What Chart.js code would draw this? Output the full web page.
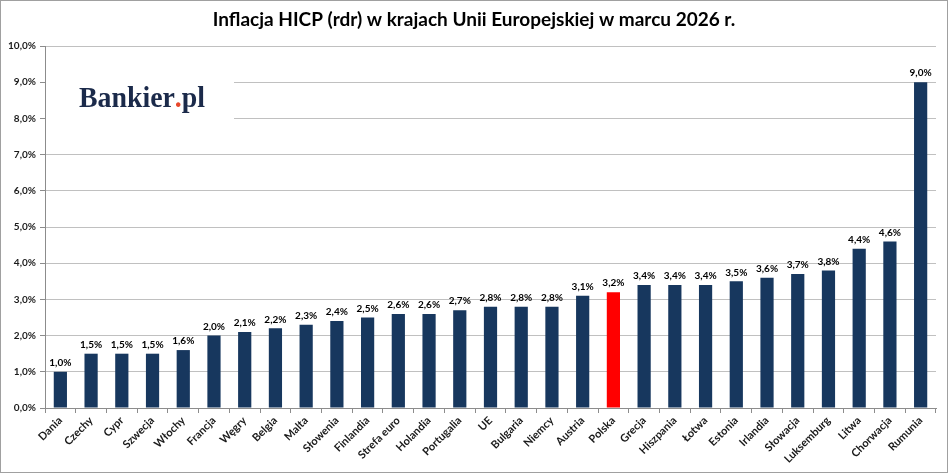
<!DOCTYPE html>
<html>
<head>
<meta charset="utf-8">
<script src="https://cdn.jsdelivr.net/npm/chart.js@4.4.1/dist/chart.umd.min.js"></script>
<style>
  html, body { margin: 0; padding: 0; background: #fff; }
  #wrap { width: 948px; height: 473px; position: relative; }
</style>
</head>
<body>
<div id="wrap"><canvas id="hicp"></canvas></div>
<script>
// ─── Data ────────────────────────────────────────────────────────────────
const countries = [
    'Dania', 'Czechy', 'Cypr', 'Szwecja', 'Włochy', 'Francja', 'Węgry', 'Belgia',
    'Malta', 'Słowenia', 'Finlandia', 'Strefa euro', 'Holandia', 'Portugalia', 'UE',
    'Bulgaria', 'Niemcy', 'Austria', 'Polska', 'Grecja', 'Hiszpania', 'Łotwa',
    'Estonia', 'Irlandia', 'Słowacja', 'Luksemburg', 'Litwa', 'Chorwacja', 'Rumunia'
];
const inflation = [
    1.0, 1.5, 1.5, 1.5, 1.6, 2.0, 2.1, 2.2,
    2.3, 2.4, 2.5, 2.6, 2.6, 2.7, 2.8,
    2.8, 2.8, 3.1, 3.2, 3.4, 3.4, 3.4,
    3.5, 3.6, 3.7, 3.8, 4.4, 4.6, 9.0
];
const highlighted = 'Polska';
const yTicks = [0, 1, 2, 3, 4, 5, 6, 7, 8, 9, 10];

const TITLE = 'Inflacja HICP (rdr) w krajach Unii Europejskiej w marcu 2026 r.';
const FONT  = 'Lato, "Open Sans", sans-serif';
const NAVY  = '#17375e';

const pct = v => v.toFixed(1).replace('.', ',') + '%';

// ─── Plugins ─────────────────────────────────────────────────────────────

// white background, outer frame and chart title
const framePlugin = {
    id: 'frame',
    beforeDraw(chart) {
        const { ctx, width, height } = chart;
        ctx.save();
        ctx.fillStyle = '#fff';
        ctx.fillRect(0, 0, width, height);
        ctx.strokeStyle = '#a0a0a0';
        ctx.lineWidth = 1;
        ctx.strokeRect(0.5, 0.5, width - 1, height - 1);
        ctx.fillStyle = '#000';
        ctx.font = 'bold 19px ' + FONT;
        ctx.textAlign = 'center';
        ctx.textBaseline = 'middle';
        ctx.fillText(TITLE, width / 2, 20);
        ctx.restore();
    }
};

// value labels above the bars
const valueLabels = {
    id: 'valueLabels',
    afterDatasetsDraw(chart) {
        const { ctx } = chart;
        const meta = chart.getDatasetMeta(0);
        ctx.save();
        ctx.font = 'bold 10px ' + FONT;
        ctx.fillStyle = '#000';
        ctx.textAlign = 'center';
        ctx.textBaseline = 'bottom';
        meta.data.forEach((bar, i) => {
            ctx.fillText(pct(inflation[i]), bar.x, bar.y - 4);
        });
        ctx.restore();
    }
};

// Bankier.pl logo over the upper-left part of the plot
const logoPlugin = {
    id: 'logo',
    afterDraw(chart) {
        const { ctx } = chart;
        ctx.save();
        ctx.fillStyle = '#fff';
        ctx.fillRect(46, 64, 188, 60);
        ctx.font = 'bold 30px "Liberation Serif", "DejaVu Serif", serif';
        ctx.textBaseline = 'alphabetic';
        const parts = [['Bankier', '#1b2a4a'], ['.', '#e8472b'], ['pl', '#1b2a4a']];
        const total = parts.reduce((s, p) => s + ctx.measureText(p[0]).width, 0);
        const sx = 126 / total;
        ctx.translate(79, 107);
        ctx.scale(sx, 1);
        let x = 0;
        parts.forEach(([t, c]) => {
            ctx.fillStyle = c;
            ctx.fillText(t, x, 0);
            x += ctx.measureText(t).width;
        });
        ctx.restore();
    }
};

// ─── Chart ───────────────────────────────────────────────────────────────
const ctx = document.getElementById('hicp').getContext('2d');

new Chart(ctx, {
    type: 'bar',
    data: {
        labels: countries,
        datasets: [{
            data: inflation,
            backgroundColor: countries.map(c => c === highlighted ? '#ff0000' : NAVY),
            borderWidth: 0,
            barPercentage: 0.43,
            categoryPercentage: 1.0
        }]
    },
    options: {
        responsive: true,
        maintainAspectRatio: false,
        animation: false,
        devicePixelRatio: 1,
        layout: { padding: { top: 46, right: 12, bottom: 3, left: 0 } },
        plugins: {
            legend: { display: false },
            tooltip: { enabled: false }
        },
        scales: {
            x: {
                grid: {
                    offset: true,
                    drawOnChartArea: false,
                    drawTicks: true,
                    tickLength: 5,
                    color: '#8c8c8c'
                },
                border: { color: '#8c8c8c' },
                ticks: {
                    color: '#1a1a1a',
                    font: { family: FONT, size: 11, weight: 'bold' },
                    minRotation: 45,
                    maxRotation: 45,
                    autoSkip: false,
                    padding: 1
                },
                afterFit(scale) { scale.height = 62; }
            },
            y: {
                min: yTicks[0],
                max: yTicks[yTicks.length - 1],
                afterBuildTicks(scale) { scale.ticks = yTicks.map(v => ({ value: v })); },
                grid: {
                    color: '#c0c0c0',
                    tickLength: 5,
                    tickColor: '#8c8c8c'
                },
                border: { color: '#8c8c8c' },
                ticks: {
                    color: '#1a1a1a',
                    font: { family: FONT, size: 10, weight: 'bold' },
                    padding: 4,
                    callback: v => pct(v)
                },
                afterFit(scale) { scale.width = 45; }
            }
        }
    },
    plugins: [framePlugin, valueLabels, logoPlugin]
});
</script>
</body>
</html>
